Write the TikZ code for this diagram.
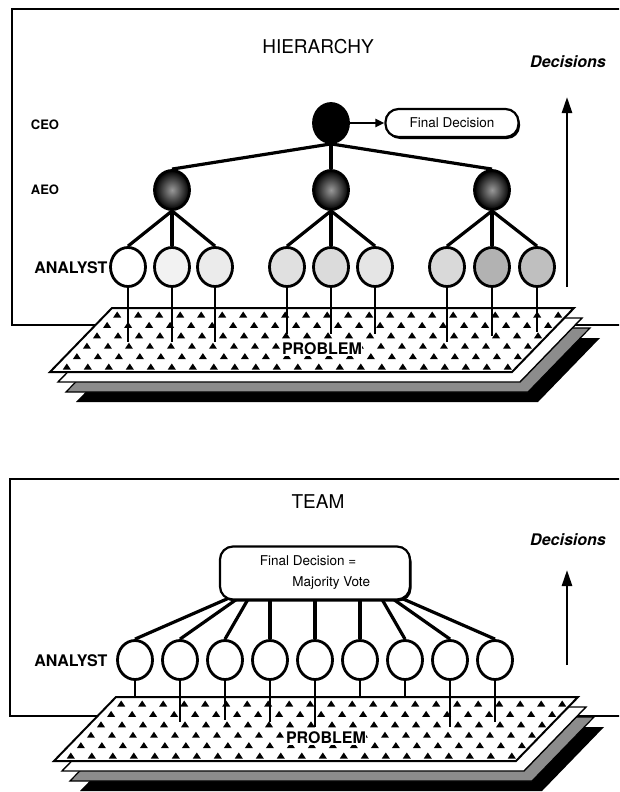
\documentclass[tikz,border=0pt]{standalone}
\usepackage{fontspec}
\setmainfont{TeX Gyre Heros}
\usetikzlibrary{shapes.geometric,arrows.meta,backgrounds,shadows}

\tikzset{
  person/.style={ellipse, draw, line width=2.8pt, minimum width=35pt, minimum height=39pt, inner sep=0pt},
  boss/.style={person, fill=black},
  chief/.style={person, shade, inner color=black!40, outer color=black},
  tie/.style={line width=3.2pt},
  stem/.style={line width=2pt},
  frame/.style={line width=2pt},
  role/.style={font=\bfseries\fontsize{13}{15}\selectfont},
  heading/.style={font=\fontsize{19}{22}\selectfont},
  rise/.style={line width=2.6pt, -{Triangle[length=16pt,width=10pt]}},
  decbox/.style={draw, line width=2.2pt, fill=white, rounded corners=13pt,
    drop shadow={shadow xshift=1.5pt, shadow yshift=-2pt, fill=black, opacity=1}},
  problemplate/.pic={
    \fill (26,30) -- ++(462,0) -- ++(-62,64) -- ++(-462,0) -- cycle;
    \filldraw[fill=black!45, line width=1.2pt] (16,20) -- ++(462,0) -- ++(-62,64) -- ++(-462,0) -- cycle;
    \filldraw[fill=white, line width=1.4pt] (8,10) -- ++(462,0) -- ++(-62,64) -- ++(-462,0) -- cycle;
    \filldraw[fill=white, line width=2pt] (0,0) -- (462,0) -- (400,64) -- (-62,64) -- cycle;
    % rows of small triangles
    \begin{scope}
      \clip (0,0) -- (462,0) -- (400,64) -- (-62,64) -- cycle;
      \foreach \r in {0,...,5}
        \foreach \i in {0,...,24}
          \fill ({12+21*\i-0.97*(7+10.4*\r)},{7+10.4*\r}) ++(-4,2.5) -- ++(8,0) -- ++(-4,-6) -- cycle;
    \end{scope}
  }
}

\begin{document}
\begin{tikzpicture}[x=1pt,y=-1pt]
\useasboundingbox (0,0) rectangle (619,792);
\clip (0,0) rectangle (619,792);

% ---------- HIERARCHY ----------
\draw[frame] (640,9) -- (12,9) -- (12,325) -- (640,325);
\pic at (112,308) {problemplate};
\node[font=\bfseries\fontsize{16}{18}\selectfont, fill=white, inner sep=0.5pt] (prob1) at (322,349) {PROBLEM};

\node[heading] (hier) at (318,47) {HIERARCHY};
\node[font=\bfseries\itshape\fontsize{16}{18}\selectfont] (dec1) at (568,62) {Decisions};
\coordinate (up1) at (567,97);
\coordinate (lo1) at (567,287);
\draw[rise] (lo1) -- (up1);

% Levels
\node[role] (ceolbl) at (45,125) {CEO};
\node[role] (aeolbl) at (45,190) {AEO};
\node[role, anchor=east, font=\bfseries\fontsize{16}{18}\selectfont] (anlbl1) at (111,268) {ANALYST};

\node[boss] (ceo) at (331,123) {};
\node[decbox, minimum width=133pt, minimum height=28pt, font=\fontsize{13.5}{16}\selectfont] (final) at (452,123) {Final Decision};
\draw[line width=2.2pt, -{Triangle[length=9pt,width=8pt]}] (ceo) -- (final);

\node[chief] (aeo1) at (172,190) {};
\node[chief] (aeo2) at (331,190) {};
\node[chief] (aeo3) at (492,190) {};
\foreach \a in {1,2,3}
  \draw[tie] (ceo.south) -- (aeo\a.north);

\foreach \n/\x/\c in {1/128/0, 2/172/5, 3/215/8, 4/287/12, 5/331/14, 6/375/10, 7/447/15, 8/492/30, 9/537/25}
  \node[person, fill=black!\c] (h\n) at (\x,267) {};
\foreach \a/\l in {1/1,1/2,1/3,2/4,2/5,2/6,3/7,3/8,3/9}
  \draw[tie] (aeo\a.south) -- (h\l.north);
\foreach \l/\e in {1/342,2/342,3/342,4/334,5/334,6/334,7/342,8/336,9/332}
  \draw[stem] (h\l.south) -- (h\l.south |- 0,\e);

% ---------- TEAM ----------
\draw[frame] (640,479) -- (10,479) -- (10,716) -- (640,716);
\pic at (116,697) {problemplate};
\node[font=\bfseries\fontsize{16}{18}\selectfont, fill=white, inner sep=0.5pt] (prob2) at (326,738) {PROBLEM};

\node[heading] (team) at (318,502) {TEAM};
\node[font=\bfseries\itshape\fontsize{16}{18}\selectfont] (dec2) at (568,540) {Decisions};
\coordinate (up2) at (567,570);
\coordinate (lo2) at (567,665);
\draw[rise] (lo2) -- (up2);

\node[decbox, minimum width=190pt, minimum height=53pt, align=left, font=\fontsize{13.5}{21}\selectfont] (vote) at (315,573)
  {Final Decision =\\\hspace{2.4em}Majority Vote};
\node[role, anchor=east, font=\bfseries\fontsize{16}{18}\selectfont] (anlbl2) at (111,661) {ANALYST};

\foreach \n in {1,...,9}
  \node[person, fill=white] (t\n) at ({90+45*\n},660) {};
\begin{scope}[on background layer]
  \foreach \l/\d in {1/-85,2/-76,3/-66,4/-45,5/0,6/45,7/66,8/76,9/85}
    \draw[tie] ([xshift=\d pt, yshift=3pt]vote.south) -- (t\l.north);
\end{scope}
\foreach \l/\e in {1/698,2/722,3/720,4/722,5/727,6/698,7/698,8/727,9/722}
  \draw[stem] (t\l.south) -- (t\l.south |- 0,\e);
\end{tikzpicture}
\end{document}
